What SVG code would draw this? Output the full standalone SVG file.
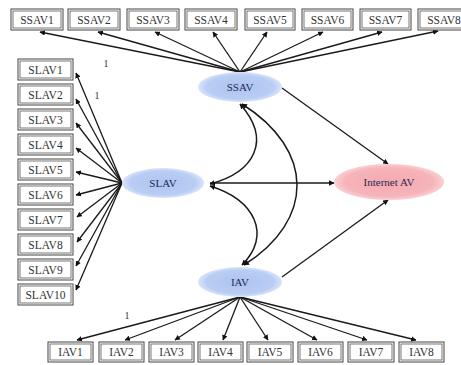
<svg xmlns="http://www.w3.org/2000/svg" width="461" height="365" viewBox="0 0 461 365">
<defs>
<marker id="ah" viewBox="0 0 10 10" refX="9" refY="5" markerWidth="5.5" markerHeight="5.5" orient="auto-start-reverse" markerUnits="userSpaceOnUse">
<path d="M0,0 L10,5 L0,10 z" fill="#111"/>
</marker>
<radialGradient id="blue" cx="50%" cy="50%" r="50%">
<stop offset="0%" stop-color="#adc4f0"/>
<stop offset="80%" stop-color="#b9cdf4"/>
<stop offset="100%" stop-color="#d8e4fa"/>
</radialGradient>
<radialGradient id="pink" cx="50%" cy="50%" r="50%">
<stop offset="0%" stop-color="#f5a9b0"/>
<stop offset="80%" stop-color="#f6b4ba"/>
<stop offset="100%" stop-color="#fad0d4"/>
</radialGradient>
</defs>
<style>
.box{fill:#fff;stroke:#444;stroke-width:1}
.inner{fill:none;stroke:#555;stroke-width:0.8}
.t{font-family:"Liberation Serif",serif;font-size:11.5px;fill:#333;text-anchor:middle;dominant-baseline:central}
.et{font-family:"Liberation Serif",serif;font-size:11px;fill:#1f2a55;text-anchor:middle;dominant-baseline:central}
.lbl{font-family:"Liberation Serif",serif;font-size:10px;fill:#333;text-anchor:middle;dominant-baseline:central}
.c{fill:none;stroke:#1a1a1a;stroke-width:1.3;marker-end:url(#ah)}
.cv{fill:none;stroke:#1a1a1a;stroke-width:1.5;marker-start:url(#ah);marker-end:url(#ah)}
</style>
<rect width="461" height="365" fill="#fff"/>

<g id="connectors">
<path class="c" d="M240,72 L40,32"/>
<path class="c" d="M240,72 L98,32"/>
<path class="c" d="M240,72 L155,32"/>
<path class="c" d="M240,72 L213,32"/>
<path class="c" d="M240,72 L267,32"/>
<path class="c" d="M240,72 L323,32"/>
<path class="c" d="M240,72 L382,32"/>
<path class="c" d="M240,72 L438,31"/>
<path class="c" d="M122,183 L76,73"/>
<path class="c" d="M122,183 L76,99"/>
<path class="c" d="M122,183 L76,123"/>
<path class="c" d="M122,183 L76,148"/>
<path class="c" d="M122,183 L76,172"/>
<path class="c" d="M122,183 L76,195"/>
<path class="c" d="M122,183 L77,217"/>
<path class="c" d="M122,183 L77,242"/>
<path class="c" d="M122,183 L76,266"/>
<path class="c" d="M122,183 L76,290"/>
<path class="c" d="M240,297 L77,340"/>
<path class="c" d="M240,297 L125,340"/>
<path class="c" d="M240,297 L175,340"/>
<path class="c" d="M240,297 L223,340"/>
<path class="c" d="M240,297 L268,340"/>
<path class="c" d="M240,297 L317,340"/>
<path class="c" d="M240,297 L367,340"/>
<path class="c" d="M240,297 L416,340"/>
<path class="c" d="M282,88 L388,164"/>
<path class="c" d="M210,183 L334,183"/>
<path class="c" d="M282,277 L388,200"/>
<path class="cv" d="M210,184 C255,172 272,140 240,104"/>
<path class="cv" d="M210,186 C255,200 272,235 242,265"/>
<path class="cv" d="M242,104 C315,150 315,220 244,265"/>
</g>

<g id="SSAV"><ellipse cx="240" cy="87" rx="42" ry="15" fill="url(#blue)"/><text class="et" x="240" y="87">SSAV</text></g>
<g id="SLAV"><ellipse cx="163" cy="183" rx="41" ry="15" fill="url(#blue)"/><text class="et" x="163" y="183">SLAV</text></g>
<g id="IAV"><ellipse cx="240" cy="282" rx="42" ry="15" fill="url(#blue)"/><text class="et" x="240" y="282">IAV</text></g>
<g id="InternetAV"><ellipse cx="389" cy="182" rx="55" ry="18" fill="url(#pink)"/><text class="et" x="389" y="182">Internet AV</text></g>

<g id="SSAV1"><rect class="box" x="11" y="9" width="52" height="21"/><rect class="inner" x="13" y="11" width="48" height="17"/><text class="t" x="37" y="19.5">SSAV1</text></g>
<g id="SSAV2"><rect class="box" x="68" y="9" width="52" height="21"/><rect class="inner" x="70" y="11" width="48" height="17"/><text class="t" x="94" y="19.5">SSAV2</text></g>
<g id="SSAV3"><rect class="box" x="127" y="9" width="52" height="21"/><rect class="inner" x="129" y="11" width="48" height="17"/><text class="t" x="153" y="19.5">SSAV3</text></g>
<g id="SSAV4"><rect class="box" x="185" y="9" width="52" height="21"/><rect class="inner" x="187" y="11" width="48" height="17"/><text class="t" x="211" y="19.5">SSAV4</text></g>
<g id="SSAV5"><rect class="box" x="245" y="9" width="50" height="21"/><rect class="inner" x="247" y="11" width="46" height="17"/><text class="t" x="270" y="19.5">SSAV5</text></g>
<g id="SSAV6"><rect class="box" x="302" y="9" width="51" height="21"/><rect class="inner" x="304" y="11" width="47" height="17"/><text class="t" x="327.5" y="19.5">SSAV6</text></g>
<g id="SSAV7"><rect class="box" x="360" y="9" width="51" height="21"/><rect class="inner" x="362" y="11" width="47" height="17"/><text class="t" x="385.5" y="19.5">SSAV7</text></g>
<g id="SSAV8"><rect class="box" x="418" y="9" width="52" height="21"/><rect class="inner" x="420" y="11" width="48" height="17"/><text class="t" x="444" y="19.5">SSAV8</text></g>

<g id="SLAV1"><rect class="box" x="18" y="59" width="55" height="21"/><rect class="inner" x="20" y="61" width="51" height="17"/><text class="t" x="45.5" y="69.5">SLAV1</text></g>
<g id="SLAV2"><rect class="box" x="18" y="84" width="55" height="21"/><rect class="inner" x="20" y="86" width="51" height="17"/><text class="t" x="45.5" y="94.5">SLAV2</text></g>
<g id="SLAV3"><rect class="box" x="18" y="109" width="55" height="21"/><rect class="inner" x="20" y="111" width="51" height="17"/><text class="t" x="45.5" y="119.5">SLAV3</text></g>
<g id="SLAV4"><rect class="box" x="18" y="134" width="55" height="21"/><rect class="inner" x="20" y="136" width="51" height="17"/><text class="t" x="45.5" y="144.5">SLAV4</text></g>
<g id="SLAV5"><rect class="box" x="18" y="159" width="55" height="21"/><rect class="inner" x="20" y="161" width="51" height="17"/><text class="t" x="45.5" y="169.5">SLAV5</text></g>
<g id="SLAV6"><rect class="box" x="18" y="184" width="55" height="21"/><rect class="inner" x="20" y="186" width="51" height="17"/><text class="t" x="45.5" y="194.5">SLAV6</text></g>
<g id="SLAV7"><rect class="box" x="18" y="209" width="55" height="21"/><rect class="inner" x="20" y="211" width="51" height="17"/><text class="t" x="45.5" y="219.5">SLAV7</text></g>
<g id="SLAV8"><rect class="box" x="18" y="234" width="55" height="21"/><rect class="inner" x="20" y="236" width="51" height="17"/><text class="t" x="45.5" y="244.5">SLAV8</text></g>
<g id="SLAV9"><rect class="box" x="18" y="259" width="55" height="21"/><rect class="inner" x="20" y="261" width="51" height="17"/><text class="t" x="45.5" y="269.5">SLAV9</text></g>
<g id="SLAV10"><rect class="box" x="18" y="284" width="55" height="21"/><rect class="inner" x="20" y="286" width="51" height="17"/><text class="t" x="45.5" y="294.5">SLAV10</text></g>

<g id="IAV1"><rect class="box" x="48" y="342" width="45" height="20"/><rect class="inner" x="50" y="344" width="41" height="16"/><text class="t" x="70.5" y="352">IAV1</text></g>
<g id="IAV2"><rect class="box" x="99" y="342" width="45" height="20"/><rect class="inner" x="101" y="344" width="41" height="16"/><text class="t" x="121.5" y="352">IAV2</text></g>
<g id="IAV3"><rect class="box" x="149" y="342" width="45" height="20"/><rect class="inner" x="151" y="344" width="41" height="16"/><text class="t" x="171.5" y="352">IAV3</text></g>
<g id="IAV4"><rect class="box" x="198" y="342" width="45" height="20"/><rect class="inner" x="200" y="344" width="41" height="16"/><text class="t" x="220.5" y="352">IAV4</text></g>
<g id="IAV5"><rect class="box" x="247" y="342" width="46" height="20"/><rect class="inner" x="249" y="344" width="42" height="16"/><text class="t" x="270" y="352">IAV5</text></g>
<g id="IAV6"><rect class="box" x="298" y="342" width="45" height="20"/><rect class="inner" x="300" y="344" width="41" height="16"/><text class="t" x="320.5" y="352">IAV6</text></g>
<g id="IAV7"><rect class="box" x="348" y="342" width="46" height="20"/><rect class="inner" x="350" y="344" width="42" height="16"/><text class="t" x="371" y="352">IAV7</text></g>
<g id="IAV8"><rect class="box" x="399" y="342" width="45" height="20"/><rect class="inner" x="401" y="344" width="41" height="16"/><text class="t" x="421.5" y="352">IAV8</text></g>

<text class="lbl" x="106" y="63">1</text>
<text class="lbl" x="97" y="95">1</text>
<text class="lbl" x="127" y="315">1</text>
</svg>
